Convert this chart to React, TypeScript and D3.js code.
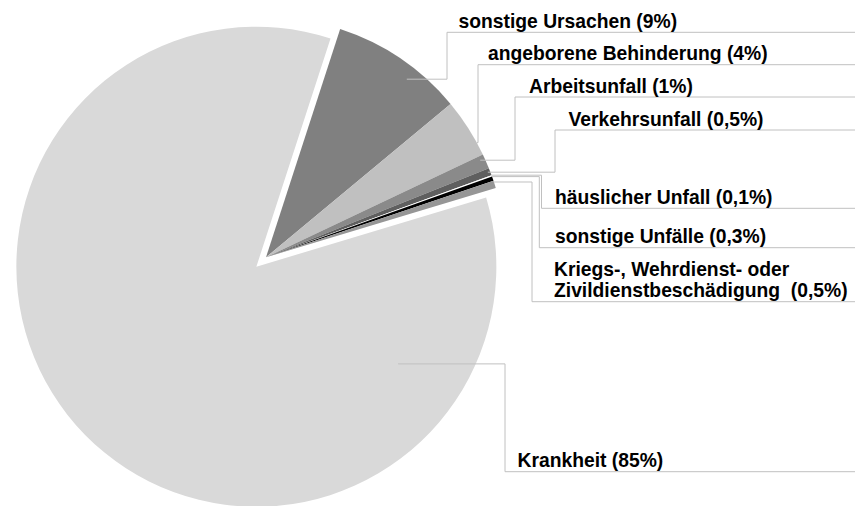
import React from "react";
import * as d3 from "d3";

// ---- data ----
const categories = [
  "sonstige Ursachen",
  "angeborene Behinderung",
  "Arbeitsunfall",
  "Verkehrsunfall",
  "häuslicher Unfall",
  "sonstige Unfälle",
  "Kriegs-, Wehrdienst- oder\nZivildienstbeschädigung ",
  "Krankheit",
];
const values = [9, 4, 1, 0.5, 0.1, 0.3, 0.5, 85];
const percentLabels = ["9%", "4%", "1%", "0,5%", "0,1%", "0,3%", "0,5%", "85%"];

// ---- styles / layout ----
const sliceColors = ["#808080", "#c0c0c0", "#8a8a8a", "#5f5f5f", "#ffffff", "#000000", "#969696", "#d9d9d9"];
const explode = [0, 0, 0, 0, 0, 0, 0, 13.5];
// leader line anchor (fraction within slice angle, fraction of radius), elbow x, label line y, text x
const anchorT = [0.63, 0.78, 0.28, 0.45, 0, 0, 0.16, 0.168];
const anchorR = [0.946, 1.0, 0.98, 0.99, 1.0, 1.0, 1.0, 0.716];
const elbowX = [447, 478, 515, 555, 541.5, 539.3, 532, 505];
const lineY = [32.3, 64.7, 97, 130, 208.3, 247.7, 301.7, 471.7];
const textX = [458.5, 488, 529, 568.5, 555, 555, 554, 517.5];

const W = 855;
const H = 506;
const CX = 266;
const CY = 257.3;
const R = 240;
const START = (18 * Math.PI) / 180;

export default function App() {
  const pie = d3
    .pie<number>()
    .sort(null)
    .value((d) => d)
    .startAngle(START)
    .endAngle(START + 2 * Math.PI);
  const arcs = pie(values);
  const arc = d3.arc<d3.PieArcDatum<number>>().innerRadius(0).outerRadius(R);

  return (
    <svg
      width={W}
      height={H}
      style={{ position: "absolute", left: 0, top: 0, background: "#fff" }}
      fontFamily="'Liberation Sans', Arial, sans-serif"
    >
      <rect width={W} height={H} fill="#fff" />
      {arcs.map((a, i) => {
        const mid = (a.startAngle + a.endAngle) / 2;
        const ox = Math.sin(mid) * explode[i];
        const oy = -Math.cos(mid) * explode[i];
        return (
          <path
            key={"s" + i}
            d={arc(a) || ""}
            transform={`translate(${CX + ox},${CY + oy})`}
            fill={sliceColors[i]}
          />
        );
      })}
      {arcs.map((a, i) => {
        const mid = (a.startAngle + a.endAngle) / 2;
        const ox = Math.sin(mid) * explode[i];
        const oy = -Math.cos(mid) * explode[i];
        const ang = a.startAngle + anchorT[i] * (a.endAngle - a.startAngle);
        const ax = CX + ox + Math.sin(ang) * R * anchorR[i];
        const ay = CY + oy - Math.cos(ang) * R * anchorR[i];
        const pts: [number, number][] = [
          [ax, ay],
          [elbowX[i], ay],
          [elbowX[i], lineY[i]],
          [W, lineY[i]],
        ];
        const line = d3.line()(pts) || "";
        return <path key={"l" + i} d={line} fill="none" stroke="#c0c0c0" strokeWidth={1} />;
      })}
      {categories.map((c, i) => {
        const lines = `${c} (${percentLabels[i]})`.split("\n");
        const n = lines.length;
        return (
          <text
            key={"t" + i}
            x={textX[i]}
            fontSize={19.3}
            fontWeight="bold"
            fill="#000"
            style={{ whiteSpace: "pre" }}
          >
            {lines.map((ln, j) => (
              <tspan key={j} x={textX[i]} y={lineY[i] - 4.3 - (n - 1 - j) * 21}>
                {ln}
              </tspan>
            ))}
          </text>
        );
      })}
    </svg>
  );
}
